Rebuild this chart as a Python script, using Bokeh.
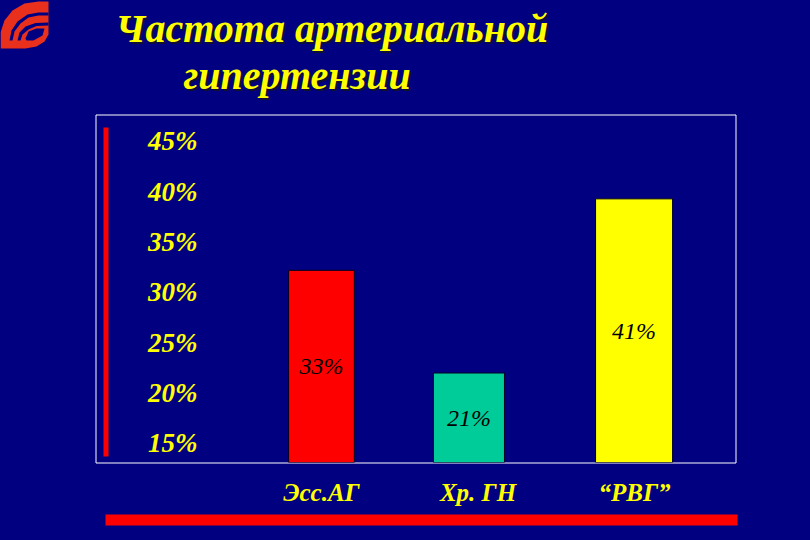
from bokeh.plotting import figure
from bokeh.embed import file_html
from bokeh.resources import INLINE
from bokeh.models import ColumnDataSource, FactorRange, Range1d, FixedTicker, PrintfTickFormatter
from bokeh.transform import dodge
from bokeh.core.properties import value

title_lines = ["Частота артериальной", "гипертензии"]
categories = ["Эсс.АГ", "Хр. ГН", "“РВГ”"]
bar_values = [32.2, 22.0, 39.3]
bar_labels = ["33%", "21%", "41%"]
bar_colors = ["#ff0000", "#00cc99", "#ffff00"]
y_ticks = [15, 20, 25, 30, 35, 40, 45]

NAVY = "#000080"
YELLOW = "#ffff00"
LOGO_RED = "#e8301c"
SERIF = "Liberation Serif"
y_start, y_end = 13.11, 47.68
PIN = {"position": "fixed", "left": "0px", "top": "0px"}

# Back layer: slide furniture (frame, rules, logo, heading) in slide pixels
back = figure(width=810, height=540, x_range=Range1d(0, 810), y_range=Range1d(540, 0),
              output_backend="svg", toolbar_location=None, x_axis_type=None, y_axis_type=None,
              background_fill_color=NAVY, border_fill_color=NAVY, min_border=0)
back.styles = {**PIN, "background-color": NAVY}
back.outline_line_color = None
back.grid.visible = False

back.quad(left=[95.5], right=[735.5], top=[114.5], bottom=[462.5], fill_color=None, line_color="#ffffff", line_width=1)
back.quad(left=[103, 105], right=[108, 737], top=[127, 514], bottom=[456, 525], fill_color="#ff0000", line_color=None)

logo_body = ([0, 0, 4, 12, 24, 38, 48, 48, 44, 36, 25], [48, 32, 20, 10, 3, 1, 1, 34, 41, 46, 48])
logo_arc = ([9, 11, 17, 27, 38, 48, 48, 38, 28, 20, 14, 12], [40, 30, 21, 14, 12, 12, 15, 15, 17, 23, 31, 40])
logo_arc2 = ([17, 19, 25, 35, 48, 48, 36, 28, 22, 20], [40, 32, 26, 22.5, 22, 25, 25.5, 29, 34, 40])
logo_eye = ([25, 28, 36, 44, 42, 33, 26], [38, 31, 28, 28, 35, 40, 40])
back.patch(*logo_body, fill_color=LOGO_RED, line_color=None)
back.patch(*logo_arc, fill_color=NAVY, line_color=None)
back.patch(*logo_arc2, fill_color=NAVY, line_color=None)
back.patch(*logo_eye, fill_color=NAVY, line_color=None)

for dx, color in ((2, "#101030"), (0, YELLOW)):
    back.text(x=[115 + dx, 183 + dx], y=[28 + dx, 75 + dx], text=title_lines,
              text_color=color, text_font=value(SERIF), text_font_style="bold italic",
              text_font_size="40px", text_baseline="alphabetic", text_align="left")

# Front layer: the chart itself
source = dict(cat=categories, val=bar_values, lab=bar_labels, col=bar_colors,
              mid=[(v + y_start) / 2 for v in bar_values],
              wid=[0.42, 0.454, 0.492],
              off=[0.0, -0.058, -0.003])

x_range = FactorRange(factors=categories, range_padding=0.145, range_padding_units="absolute")
y_range = Range1d(y_start, y_end)
p = figure(width=810, height=540, x_range=x_range, y_range=y_range,
           output_backend="svg", toolbar_location=None,
           background_fill_color=None, border_fill_color=None,
           min_border_left=220, min_border_right=75, min_border_top=114, min_border_bottom=78)
p.styles = PIN
p.outline_line_color = None
p.grid.visible = False

for i, c in enumerate(categories):
    sub = ColumnDataSource({k: [source[k][i]] for k in source})
    off = source["off"][i]
    p.vbar(x=dodge("cat", off, range=x_range), top="val", bottom=y_start, width="wid",
           fill_color="col", line_color="#000020", line_width=1, source=sub)
    p.text(x=dodge("cat", off, range=x_range), y="mid", text="lab", source=sub,
           text_align="center", text_baseline="middle", text_color="#000000",
           text_font=value(SERIF), text_font_style="italic", text_font_size="24px")

for ax, size in ((p.xaxis[0], "25px"), (p.yaxis[0], "27px")):
    ax.axis_line_color = None
    ax.major_tick_line_color = None
    ax.minor_tick_line_color = None
    ax.major_label_text_color = YELLOW
    ax.major_label_text_font = SERIF
    ax.major_label_text_font_style = "bold italic"
    ax.major_label_text_font_size = size
p.xaxis[0].major_label_standoff = 10
p.yaxis[0].major_label_standoff = 17
p.yaxis[0].ticker = FixedTicker(ticks=y_ticks)
p.yaxis[0].formatter = PrintfTickFormatter(format="%d%%")

open("out.html", "w").write(file_html([back, p], INLINE))
